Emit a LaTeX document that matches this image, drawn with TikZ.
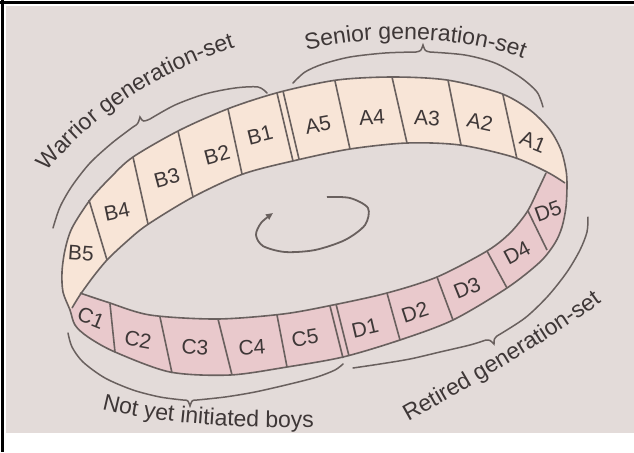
\documentclass[tikz,border=0pt]{standalone}
\usepackage{fontspec}
\setmainfont{Liberation Sans}
\usetikzlibrary{decorations.text,arrows.meta}
\definecolor{bgc}{RGB}{227,219,217}
\definecolor{peach}{RGB}{248,229,215}
\definecolor{pinkc}{RGB}{233,201,204}
\definecolor{linec}{RGB}{105,96,94}
\definecolor{textc}{RGB}{62,55,55}
\newcommand\labfont{\fontsize{10.5}{12}\selectfont}
\newcommand\bigfont{\fontsize{11.5}{13}\selectfont}
\begin{document}
\begin{tikzpicture}[x=0.5pt,y=-0.5pt,
  edge/.style={draw=linec,line width=0.8pt},
  brace/.style={draw=linec,line width=0.75pt,line cap=round},
  lab/.style={text=textc,font=\labfont,inner sep=0pt}]
\useasboundingbox (0,0) rectangle (634,452);
\fill[white] (0,0) rectangle (634,452);
\fill[bgc] (6,6) rectangle (634,433);
\draw[black,line width=1.5pt] (0,2.5) -- (634,2.5);
\draw[black,line width=1.5pt] (2.5,0) -- (2.5,452);
% silhouette fill
\fill[pinkc] plot[smooth cycle] coordinates {(70,310) (63,292) (62,272) (65,250) (72,228) (90,200) (110,178) (133,157) (180,130) (230,108) (280,92) (337,80) (393,77) (447,80) (500,93) (530,110) (550,130) (561,150) (566,170) (567,185) (566,207) (562,227) (555,243) (540,262) (507,288) (453,320) (400,340) (343,357) (287,367) (230,375) (170,372) (115,352) (88,337) (75,325)};
% upper band
\begin{scope}
\clip plot[smooth cycle] coordinates {(70,310) (63,292) (62,272) (65,250) (72,228) (90,200) (110,178) (133,157) (180,130) (230,108) (280,92) (337,80) (393,77) (447,80) (500,93) (530,110) (550,130) (561,150) (566,170) (567,185) (566,207) (562,227) (555,243) (540,262) (507,288) (453,320) (400,340) (343,357) (287,367) (230,375) (170,372) (115,352) (88,337) (75,325)};
\fill[peach] plot[smooth] coordinates {(72,308) (80,295) (93,277) (107,260) (125,243) (147,225) (193,197) (243,174) (297,160) (350,149) (407,143) (460,145) (513,157) (547,172) (565,183)} -- (640,183) -- (640,-10) -- (-10,-10) -- (-10,312) -- cycle;
\end{scope}
% floor
\begin{scope}
\clip plot[smooth] coordinates {(80,293) (107,302) (150,315) (217,319) (283,314) (333,305) (387,293) (437,277) (487,251) (510,233) (527,212) (538,190) (546,173)} -- (546,0) -- (80,0) -- cycle;
\fill[bgc] plot[smooth] coordinates {(72,308) (80,295) (93,277) (107,260) (125,243) (147,225) (193,197) (243,174) (297,160) (350,149) (407,143) (460,145) (513,157) (547,172) (565,183)} -- (565,460) -- (72,460) -- cycle;
\end{scope}
% edges
\draw[edge] plot[smooth cycle] coordinates {(70,310) (63,292) (62,272) (65,250) (72,228) (90,200) (110,178) (133,157) (180,130) (230,108) (280,92) (337,80) (393,77) (447,80) (500,93) (530,110) (550,130) (561,150) (566,170) (567,185) (566,207) (562,227) (555,243) (540,262) (507,288) (453,320) (400,340) (343,357) (287,367) (230,375) (170,372) (115,352) (88,337) (75,325)};
\draw[edge] plot[smooth] coordinates {(72,308) (80,295) (93,277) (107,260) (125,243) (147,225) (193,197) (243,174) (297,160) (350,149) (407,143) (460,145) (513,157) (547,172) (565,183)};
\draw[edge] plot[smooth] coordinates {(80,293) (107,302) (150,315) (217,319) (283,314) (333,305) (387,293) (437,277) (487,251) (510,233) (527,212) (538,190) (546,173)};
% dividers upper
\draw[edge] (89,200) -- (107,260);
\draw[edge] (133,157) -- (148,224);
\draw[edge] (178,131) -- (193,197);
\draw[edge] (228,109) -- (242,174);
\draw[edge] (277,93) -- (293,161);
\draw[edge] (283,91) -- (299,159);
\draw[edge] (335,81) -- (350,149);
\draw[edge] (392,77) -- (407,143);
\draw[edge] (448,80) -- (461,145);
\draw[edge] (503,95) -- (517,159);
% dividers lower
\draw[edge] (110,304) -- (115,352);
\draw[edge] (160,317) -- (172,373);
\draw[edge] (218,319) -- (232,375);
\draw[edge] (277,315) -- (287,367);
\draw[edge] (330,306) -- (343,358);
\draw[edge] (336,304) -- (349,356);
\draw[edge] (387,293) -- (400,340);
\draw[edge] (437,277) -- (453,320);
\draw[edge] (487,251) -- (507,288);
\draw[edge] (528,211) -- (547,250);
% labels
\node[lab,rotate=-22] (A1) at (533,142) {A1};
\node[lab,rotate=-12] (A2) at (480,122) {A2};
\node[lab,rotate=-3] (A3) at (427,118) {A3};
\node[lab,rotate=4] (A4) at (372,117) {A4};
\node[lab,rotate=10] (A5) at (318,125) {A5};
\node[lab,rotate=14] (B1) at (260,135) {B1};
\node[lab,rotate=15] (B2) at (217,155) {B2};
\node[lab,rotate=15] (B3) at (167,178) {B3};
\node[lab,rotate=12] (B4) at (117,212) {B4};
\node[lab,rotate=-4] (B5) at (81,253) {B5};
\node[lab,rotate=-22] (C1) at (91,318) {C1};
\node[lab,rotate=-10] (C2) at (138,340) {C2};
\node[lab,rotate=-4] (C3) at (195,347) {C3};
\node[lab,rotate=4] (C4) at (252,347) {C4};
\node[lab,rotate=9] (C5) at (305,338) {C5};
\node[lab,rotate=13] (D1) at (365,328) {D1};
\node[lab,rotate=18] (D2) at (415,312) {D2};
\node[lab,rotate=22] (D3) at (467,288) {D3};
\node[lab,rotate=28] (D4) at (517,253) {D4};
\node[lab,rotate=20] (D5) at (548,211) {D5};
% rotation arrow
\draw[linec,line width=0.9pt,-{Triangle[length=3.5pt,width=3pt]}] plot[smooth] coordinates {(327,197) (350,198) (368,208) (365,225) (345,240) (315,250) (285,252) (263,246) (256,235) (261,223) (273,213)};
% braces
\draw[brace] plot[smooth] coordinates {(53,228) (60,207) (72,186) (90,163) (112,143) (133,127)} .. controls (138,124) .. (140,117) .. controls (143,122) .. (150,119) plot[smooth] coordinates {(150,119) (175,105) (205,94) (235,88) (258,87) (267,93)};
\draw[brace] plot[smooth] coordinates {(293,83) (305,72) (323,64) (350,57) (385,53) (416,52)} .. controls (421,51) .. (423,45) .. controls (425,51) .. (430,52) plot[smooth] coordinates {(430,52) (465,55) (495,63) (520,77) (537,92) (543,107)};
\draw[brace] plot[smooth] coordinates {(68,333) (72,347) (83,362) (105,378) (133,390) (160,397) (183,400)} .. controls (188,400) .. (190,406) .. controls (192,400) .. (197,400) plot[smooth] coordinates {(197,400) (225,397) (255,392) (290,384) (317,377) (335,370) (343,364)};
\draw[brace] plot[smooth] coordinates {(353,368) (380,364) (410,359) (440,352) (470,345) (486,340)} .. controls (490,340) .. (494,344) .. controls (494,339) .. (497,336) plot[smooth] coordinates {(497,336) (525,318) (548,296) (567,272) (580,250) (587,232) (588,217)};
% texts
\path[decorate,decoration={text along path,text align=center,text={|\color{textc}\bigfont|Warrior generation-set}}] (36,186) .. controls (82,124) and (150,72) .. (252,42);
\path[decorate,decoration={text along path,text align=center,text={|\color{textc}\bigfont|Senior generation-set}}] (298,53) .. controls (360,34) and (460,33) .. (532,62);
\path[decorate,decoration={text along path,text align=center,text={|\color{textc}\bigfont|Not yet initiated boys}}] (98,408) .. controls (150,422) and (230,429) .. (318,427);
\path[decorate,decoration={text along path,text align=center,text={|\color{textc}\bigfont|Retired generation-set}}] (404,424) .. controls (456,395) and (551,340) .. (606,299);
\end{tikzpicture}
\end{document}
